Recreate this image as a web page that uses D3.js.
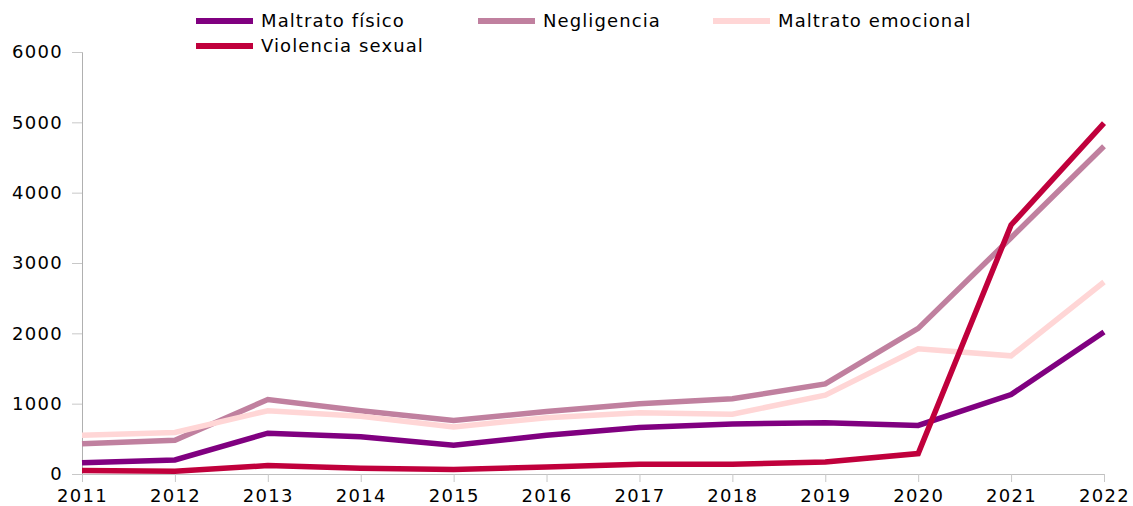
<!DOCTYPE html>
<html>
<head>
<meta charset="utf-8">
<script src="https://cdn.jsdelivr.net/npm/d3@7"></script>
<style>
  body { margin: 0; background: #fff; }
  text { font-family: "DejaVu Sans", sans-serif; fill: #000; }
</style>
</head>
<body>
<svg width="1133" height="506"></svg>
<script>
// data
var years = [2011, 2012, 2013, 2014, 2015, 2016, 2017, 2018, 2019, 2020, 2021, 2022];
var yTicks = [0, 1000, 2000, 3000, 4000, 5000, 6000];

var maltratoFisico    = [160, 200, 580, 530, 410, 550, 660, 710, 730, 690, 1130, 2020];
var negligencia       = [430, 480, 1060, 900, 760, 890, 1000, 1070, 1280, 2070, 3360, 4660];
var maltratoEmocional = [550, 590, 900, 820, 670, 800, 870, 850, 1120, 1780, 1680, 2730];
var violenciaSexual   = [50, 40, 120, 80, 65, 100, 140, 140, 170, 290, 3540, 4990];

var seriesNames = ["Maltrato físico", "Negligencia", "Maltrato emocional", "Violencia sexual"];
var seriesColors = ["#800080", "#c0809f", "#ffd6d6", "#c0003c"];

var series = [
	{name: seriesNames[0], color: seriesColors[0], values: maltratoFisico},
	{name: seriesNames[1], color: seriesColors[1], values: negligencia},
	{name: seriesNames[2], color: seriesColors[2], values: maltratoEmocional},
	{name: seriesNames[3], color: seriesColors[3], values: violenciaSexual}
];

var svg = d3.select("svg");
var mLeft = 82, mRight = 1104, mTop = 52, mBottom = 474;

var x = d3.scalePoint().domain(years).range([mLeft, mRight]);
var y = d3.scaleLinear().domain([0, 6000]).range([mBottom, mTop]);

// y axis
var yAxis = svg.append("g")
	.attr("transform", "translate(" + mLeft + ",0)")
	.call(d3.axisLeft(y).tickValues(yTicks).tickFormat(d3.format("d")).tickSize(10).tickPadding(9));
yAxis.select(".domain").attr("stroke", "#b0b0b0");
yAxis.selectAll(".tick line").attr("stroke", "#c8c8c8");
yAxis.selectAll(".tick text")
	.style("font-size", "18px")
	.style("letter-spacing", "1.3px")
	.style("font-family", "DejaVu Sans, sans-serif")
	.attr("fill", "#000");

// x axis
var xAxis = svg.append("g")
	.attr("transform", "translate(0," + mBottom + ")")
	.call(d3.axisBottom(x).tickSize(8).tickSizeOuter(0).tickPadding(7));
xAxis.select(".domain").attr("stroke", "#c0c0c0");
xAxis.selectAll(".tick line").attr("stroke", "#c8c8c8");
xAxis.selectAll(".tick text")
	.style("font-size", "18px")
	.style("letter-spacing", "1.3px")
	.style("font-family", "DejaVu Sans, sans-serif")
	.attr("fill", "#000");

// lines
var line = d3.line()
	.x(function(d, i) { return x(years[i]); })
	.y(function(d) { return y(d); });

series.forEach(function(s) {
	svg.append("path")
		.attr("d", line(s.values))
		.attr("fill", "none")
		.attr("stroke", s.color)
		.attr("stroke-width", 5.5)
		.attr("stroke-linejoin", "miter");
});

// legend
var legendPos = [[196, 21], [478, 21], [713, 21], [196, 46]];
series.forEach(function(s, i) {
	var g = svg.append("g").attr("transform", "translate(" + legendPos[i][0] + "," + legendPos[i][1] + ")");
	g.append("line")
		.attr("x1", 0).attr("x2", 57)
		.attr("stroke", s.color)
		.attr("stroke-width", 6);
	g.append("text")
		.attr("x", 65)
		.attr("dy", "0.35em")
		.style("font-size", "18px")
		.style("letter-spacing", "1.1px")
		.text(s.name);
});
</script>
</body>
</html>
